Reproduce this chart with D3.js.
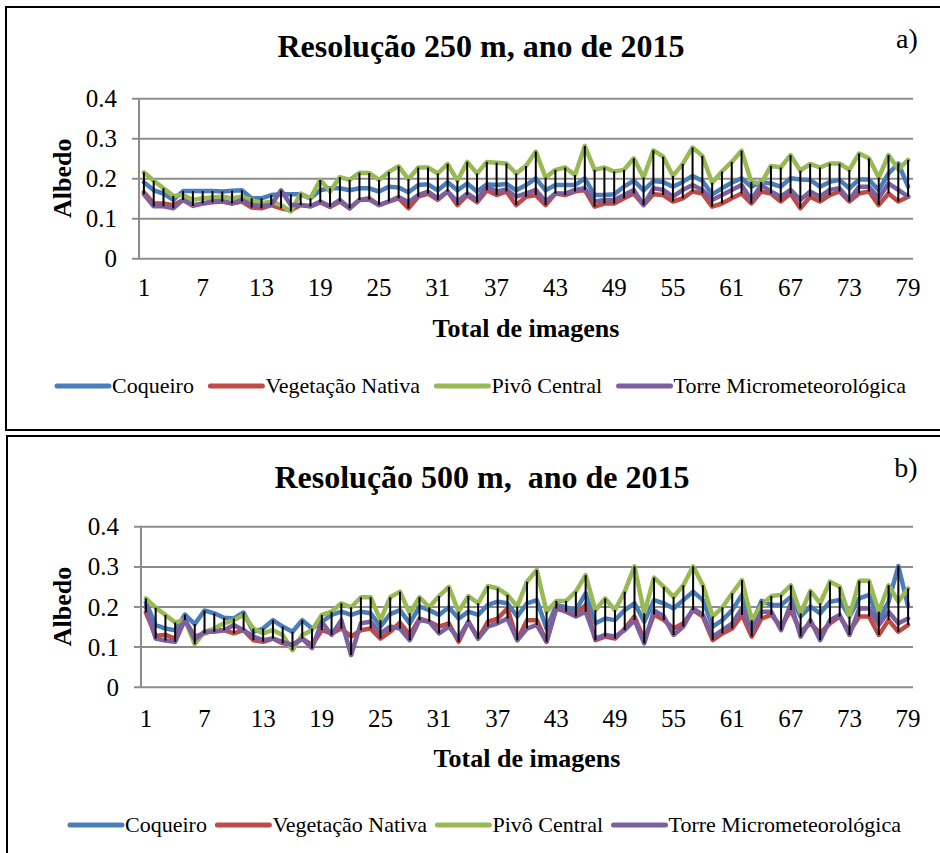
<!DOCTYPE html>
<html>
<head>
<meta charset="utf-8">
<script src="https://cdn.jsdelivr.net/npm/d3@7"></script>
<style>
  body { margin: 0; background: #fff; }
  svg { display: block; }
  svg text { font-family: "Liberation Serif", "Times New Roman", Times, serif; fill: #000; }
</style>
</head>
<body>
<svg id="chart" width="940" height="853"></svg>
<script>
// Image index along the x axis (1..79) and the labelled ticks
const imageIndex = d3.range(1, 80);
const xTickLabels = [1, 7, 13, 19, 25, 31, 37, 43, 49, 55, 61, 67, 73, 79];
const yTickValues = [0, 0.1, 0.2, 0.3, 0.4];

const seriesNames = ["Coqueiro", "Vegetação Nativa", "Pivô Central", "Torre Micrometeorológica"];
const seriesColors = ["#4A7EBB", "#BE4B48", "#98B954", "#7D60A0"];

// Albedo, 250 m resolution
const coqueiro250 = [0.19,0.17,0.162,0.146,0.168,0.168,0.168,0.168,0.167,0.169,
  0.17,0.15,0.15,0.158,0.16,0.16,0.16,0.15,0.17,0.175,
  0.175,0.17,0.175,0.175,0.167,0.179,0.177,0.165,0.183,0.185,
  0.17,0.19,0.17,0.187,0.167,0.185,0.183,0.186,0.17,0.183,
  0.2,0.17,0.183,0.183,0.183,0.2,0.158,0.158,0.16,0.179,
  0.194,0.17,0.193,0.191,0.179,0.191,0.206,0.194,0.16,0.175,
  0.189,0.2,0.179,0.191,0.187,0.179,0.2,0.197,0.196,0.179,
  0.191,0.196,0.175,0.197,0.197,0.17,0.212,0.237,0.179];
const vegetacao250 = [0.165,0.137,0.137,0.133,0.146,0.131,0.137,0.14,0.142,0.137,
  0.142,0.127,0.125,0.133,0.125,0.12,0.133,0.13,0.14,0.128,
  0.142,0.125,0.146,0.15,0.133,0.142,0.15,0.125,0.154,0.162,
  0.146,0.167,0.133,0.158,0.14,0.17,0.158,0.167,0.133,0.154,
  0.158,0.133,0.162,0.158,0.167,0.171,0.129,0.137,0.137,0.15,
  0.162,0.133,0.16,0.158,0.142,0.15,0.167,0.162,0.129,0.137,
  0.15,0.162,0.137,0.167,0.162,0.142,0.162,0.125,0.154,0.142,
  0.158,0.167,0.142,0.162,0.167,0.133,0.162,0.142,0.154];
const pivo250 = [0.215,0.194,0.175,0.156,0.158,0.146,0.15,0.152,0.154,0.15,
  0.154,0.146,0.137,0.142,0.133,0.117,0.162,0.15,0.196,0.167,
  0.203,0.196,0.214,0.213,0.196,0.216,0.23,0.198,0.227,0.227,
  0.212,0.236,0.194,0.241,0.212,0.241,0.239,0.237,0.212,0.231,
  0.267,0.202,0.221,0.227,0.208,0.281,0.221,0.227,0.217,0.221,
  0.25,0.202,0.27,0.254,0.206,0.236,0.277,0.256,0.189,0.217,
  0.241,0.269,0.191,0.187,0.231,0.227,0.258,0.219,0.236,0.227,
  0.237,0.237,0.221,0.262,0.25,0.202,0.258,0.222,0.246];
const torre250 = [0.16,0.13,0.13,0.125,0.146,0.133,0.137,0.142,0.143,0.137,
  0.146,0.133,0.13,0.133,0.17,0.133,0.133,0.13,0.142,0.13,
  0.146,0.125,0.146,0.147,0.133,0.142,0.153,0.14,0.158,0.167,
  0.15,0.167,0.142,0.162,0.146,0.18,0.167,0.172,0.154,0.162,
  0.171,0.142,0.162,0.162,0.171,0.175,0.142,0.146,0.146,0.158,
  0.171,0.133,0.175,0.171,0.154,0.171,0.183,0.171,0.146,0.158,
  0.171,0.183,0.146,0.183,0.167,0.154,0.171,0.146,0.167,0.154,
  0.171,0.175,0.146,0.179,0.179,0.15,0.187,0.171,0.154];

// Albedo, 500 m resolution
const coqueiro500 = [0.21,0.154,0.145,0.141,0.18,0.156,0.19,0.183,0.172,0.17,
  0.185,0.137,0.145,0.166,0.15,0.137,0.166,0.145,0.162,0.179,
  0.187,0.179,0.187,0.183,0.15,0.181,0.191,0.158,0.2,0.191,
  0.179,0.198,0.17,0.187,0.179,0.204,0.212,0.208,0.175,0.208,
  0.216,0.145,0.204,0.198,0.191,0.233,0.158,0.17,0.166,0.191,
  0.208,0.162,0.216,0.208,0.195,0.216,0.237,0.216,0.15,0.166,
  0.191,0.229,0.154,0.214,0.204,0.204,0.224,0.175,0.2,0.183,
  0.212,0.216,0.175,0.22,0.229,0.166,0.212,0.301,0.2];
const vegetacao500 = [0.185,0.127,0.129,0.12,0.166,0.125,0.133,0.141,0.141,0.133,
  0.141,0.116,0.112,0.12,0.108,0.104,0.12,0.104,0.141,0.133,
  0.145,0.125,0.141,0.145,0.12,0.137,0.16,0.129,0.17,0.162,
  0.15,0.158,0.112,0.162,0.12,0.162,0.17,0.195,0.116,0.166,
  0.166,0.112,0.2,0.187,0.179,0.204,0.116,0.125,0.12,0.145,
  0.175,0.116,0.18,0.166,0.145,0.158,0.191,0.175,0.116,0.133,
  0.145,0.179,0.125,0.17,0.179,0.15,0.191,0.137,0.158,0.133,
  0.158,0.175,0.137,0.175,0.175,0.129,0.166,0.137,0.154];
const pivo500 = [0.22,0.197,0.179,0.16,0.168,0.106,0.137,0.145,0.158,0.166,
  0.179,0.145,0.133,0.141,0.129,0.091,0.129,0.141,0.179,0.187,
  0.208,0.198,0.223,0.223,0.166,0.223,0.237,0.183,0.223,0.198,
  0.226,0.249,0.187,0.226,0.208,0.251,0.245,0.229,0.2,0.262,
  0.291,0.187,0.214,0.214,0.237,0.278,0.191,0.22,0.191,0.237,
  0.3,0.183,0.272,0.249,0.224,0.253,0.3,0.253,0.175,0.198,
  0.233,0.266,0.166,0.204,0.226,0.229,0.253,0.183,0.239,0.208,
  0.262,0.249,0.175,0.264,0.264,0.187,0.253,0.212,0.245];
const torre500 = [0.2,0.12,0.115,0.112,0.168,0.118,0.137,0.137,0.141,0.154,
  0.141,0.125,0.116,0.12,0.112,0.104,0.12,0.096,0.162,0.129,
  0.166,0.079,0.158,0.162,0.133,0.15,0.145,0.116,0.166,0.162,
  0.133,0.15,0.12,0.162,0.12,0.15,0.158,0.17,0.116,0.145,
  0.154,0.112,0.195,0.187,0.175,0.187,0.12,0.129,0.125,0.141,
  0.166,0.108,0.19,0.175,0.129,0.15,0.195,0.179,0.125,0.141,
  0.158,0.195,0.137,0.187,0.187,0.141,0.208,0.125,0.166,0.116,
  0.166,0.179,0.129,0.195,0.195,0.154,0.187,0.158,0.17];

const svg = d3.select("#chart");
const serif = '"Liberation Serif", "Times New Roman", Times, serif';

function drawPanel(p) {
  const g = svg.append("g");
  const series = p.values;

  // panel frame
  g.append("rect")
    .attr("x", p.frame[0]).attr("y", p.frame[1])
    .attr("width", p.frame[2]).attr("height", p.frame[3])
    .attr("fill", "none").attr("stroke", "#000").attr("stroke-width", 2);

  const x = d3.scaleBand().domain(imageIndex).range([p.left, p.right]).padding(0);
  const cx = d => x(d) + x.bandwidth() / 2;
  const y = d3.scaleLinear().domain([0, 0.4]).range([p.bottom, p.top]);

  // horizontal gridlines with outside ticks
  const yAxis = d3.axisLeft(y).tickValues(yTickValues)
    .tickSize(-(p.right - p.left)).tickSizeOuter(0)
    .tickFormat(d => d === 0 ? "0" : d3.format(".1f")(d));
  const ya = g.append("g").attr("transform", `translate(${p.left},0)`).call(yAxis);
  ya.select(".domain").remove();
  ya.selectAll(".tick line")
    .attr("x1", -7)
    .attr("stroke", "#8c8c8c").attr("stroke-width", 2);
  ya.selectAll(".tick text")
    .attr("x", -22).attr("dy", "0.34em")
    .style("font-size", "25px").style("font-family", serif).attr("fill", "#000");

  // vertical axis line
  g.append("line")
    .attr("x1", p.left).attr("x2", p.left)
    .attr("y1", p.top).attr("y2", p.bottom + 1)
    .attr("stroke", "#8c8c8c").attr("stroke-width", 2);

  // x tick labels
  const xAxis = d3.axisBottom(x).tickValues(xTickLabels).tickSize(0).tickPadding(0);
  const xa = g.append("g").attr("transform", `translate(0,${p.xLabelY})`).call(xAxis);
  xa.select(".domain").remove();
  xa.selectAll(".tick text")
    .attr("y", 0).attr("dy", "0.34em")
    .style("font-size", "25px").style("font-family", serif).attr("fill", "#000");

  // series lines
  const line = d3.line().x((d, i) => cx(imageIndex[i])).y(d => y(d));
  series.forEach((vals, k) => {
    g.append("path").datum(vals)
      .attr("d", line)
      .attr("fill", "none")
      .attr("stroke", seriesColors[k])
      .attr("stroke-width", 4.5)
      .attr("stroke-linejoin", "round")
      .attr("stroke-linecap", "round");
  });

  // high-low lines
  g.append("g").selectAll("line")
    .data(imageIndex)
    .join("line")
    .attr("x1", d => cx(d)).attr("x2", d => cx(d))
    .attr("y1", (d, i) => y(d3.max(series, s => s[i])))
    .attr("y2", (d, i) => y(d3.min(series, s => s[i])))
    .attr("stroke", "#000").attr("stroke-width", 2);

  // title
  g.append("text")
    .attr("x", p.titleX).attr("y", p.titleY)
    .attr("text-anchor", "middle")
    .style("font-size", "32px").style("font-weight", "bold")
    .style("white-space", "pre")
    .text(p.title);

  // panel letter
  g.append("text")
    .attr("x", p.letterX).attr("y", p.letterY)
    .attr("text-anchor", "middle")
    .style("font-size", "28px")
    .text(p.letter);

  // axis titles
  g.append("text")
    .attr("transform", `translate(${p.yTitleX},${(p.top + p.bottom) / 2}) rotate(-90)`)
    .attr("text-anchor", "middle").attr("dy", "0.34em")
    .style("font-size", "26px").style("font-weight", "bold")
    .text("Albedo");
  g.append("text")
    .attr("x", p.xTitleX).attr("y", p.xTitleY)
    .attr("text-anchor", "middle").attr("dy", "0.34em")
    .style("font-size", "26px").style("font-weight", "bold")
    .text("Total de imagens");

  // legend
  const lg = g.append("g");
  let lx = p.legendX;
  seriesNames.forEach((name, k) => {
    lg.append("line")
      .attr("x1", lx + 2).attr("x2", lx + 54)
      .attr("y1", p.legendY).attr("y2", p.legendY)
      .attr("stroke", seriesColors[k]).attr("stroke-width", 5)
      .attr("stroke-linecap", "round");
    const t = lg.append("text")
      .attr("x", lx + 57).attr("y", p.legendY).attr("dy", "0.34em")
      .style("font-size", "22px")
      .text(name);
    lx += 57 + t.node().getComputedTextLength() + p.legendGap;
  });
}

drawPanel({
  values: [coqueiro250, vegetacao250, pivo250, torre250],
  frame: [6, 7, 945, 423],
  left: 139, right: 913, top: 98.3, bottom: 258.3,
  xLabelY: 287,
  title: "Resolução 250 m, ano de 2015", titleX: 481, titleY: 57,
  letter: "a)", letterX: 907, letterY: 48,
  yTitleX: 62, xTitleX: 526, xTitleY: 328,
  legendX: 55, legendY: 386, legendGap: 14.5
});

drawPanel({
  values: [coqueiro500, vegetacao500, pivo500, torre500],
  frame: [7, 436, 945, 440],
  left: 141, right: 913, top: 526.3, bottom: 686.7,
  xLabelY: 718,
  title: "Resolução 500 m,  ano de 2015", titleX: 482, titleY: 488,
  letter: "b)", letterX: 906, letterY: 477,
  yTitleX: 62, xTitleX: 527, xTitleY: 758,
  legendX: 68, legendY: 825, legendGap: 8.5
});
</script>
</body>
</html>
